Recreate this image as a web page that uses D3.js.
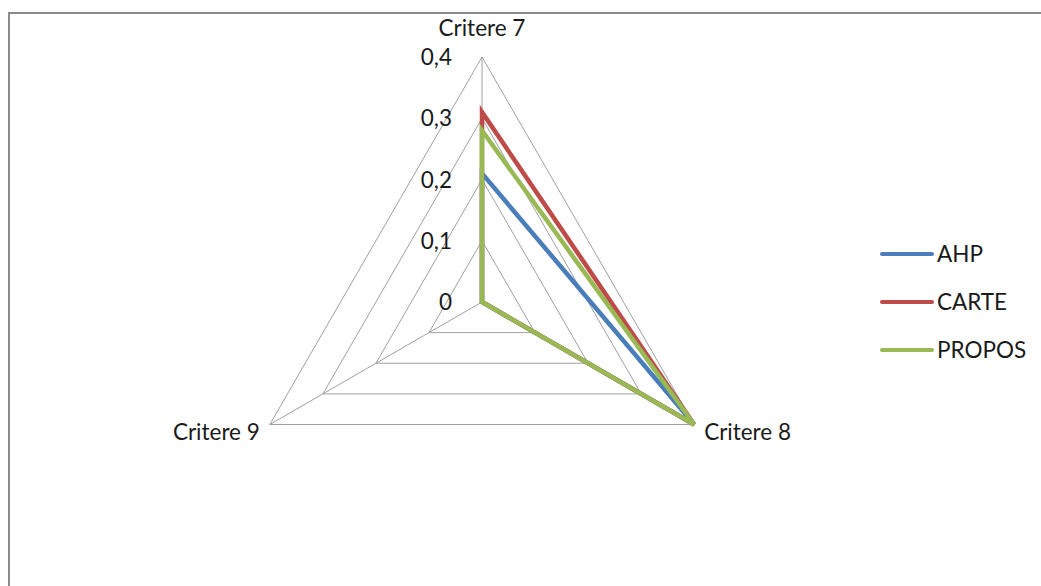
<!DOCTYPE html>
<html>
<head>
<meta charset="utf-8">
<script src="https://cdn.jsdelivr.net/npm/d3@7"></script>
<style>
  html, body { margin: 0; padding: 0; background: #fff; }
  svg { display: block; }
  text { font-family: Lato, "Open Sans", sans-serif; fill: #1a1a1a; }
</style>
</head>
<body>
<svg id="chart" width="1041" height="586"></svg>
<script>
// Criteria on the radar axes
const criteria = ["Critere 7", "Critere 8", "Critere 9"];
// Scores for each method, one per criterion
const seriesNames = ["AHP", "CARTE", "PROPOS"];
const ahpValues = [0.21, 0.40, 0];
const carteValues = [0.31, 0.40, 0];
const proposValues = [0.28, 0.40, 0];
// Radial tick values and their labels
const tickValues = [0, 0.1, 0.2, 0.3, 0.4];
const tickLabels = ["0", "0,1", "0,2", "0,3", "0,4"];

const colors = ["#4a7ebb", "#be4b48", "#98b954"];
const seriesValues = [ahpValues, carteValues, proposValues];

const svg = d3.select("#chart");
const cx = 482, cy = 302, R = 245;
const fontSize = 22.5;

// Chart frame
svg.append("rect")
  .attr("x", 9).attr("y", 13)
  .attr("width", 1060).attr("height", 600)
  .attr("fill", "none").attr("stroke", "#8a8a8a").attr("stroke-width", 2);

const r = d3.scaleLinear().domain([0, 0.4]).range([0, R]);
const angle = d3.scalePoint().domain(criteria).range([0, 2 * Math.PI * (criteria.length - 1) / criteria.length]);

function pt(c, v) {
  const a = angle(c) - Math.PI / 2;
  return [cx + r(v) * Math.cos(a), cy + r(v) * Math.sin(a)];
}

const g = svg.append("g");

// Grid triangles
tickValues.filter(t => t > 0).forEach(t => {
  g.append("polygon")
    .attr("points", criteria.map(c => pt(c, t).join(",")).join(" "))
    .attr("fill", "none").attr("stroke", "#a0a0a0").attr("stroke-width", 1);
});

// Spokes
criteria.forEach(c => {
  const [x, y] = pt(c, 0.4);
  g.append("line")
    .attr("x1", cx).attr("y1", cy).attr("x2", x).attr("y2", y)
    .attr("stroke", "#a0a0a0").attr("stroke-width", 1);
});

// Radial tick labels
tickValues.forEach((t, i) => {
  g.append("text")
    .attr("x", cx - 30).attr("y", cy - r(t) + 8)
    .attr("text-anchor", "end")
    .attr("font-size", fontSize)
    .text(tickLabels[i]);
});

// Category labels
const catPos = [
  { anchor: "middle", dx: 0, dy: -21 },
  { anchor: "start", dx: 10, dy: 15 },
  { anchor: "end", dx: -10, dy: 15 }
];
criteria.forEach((c, i) => {
  const [x, y] = pt(c, 0.4);
  g.append("text")
    .attr("x", x + catPos[i].dx).attr("y", y + catPos[i].dy)
    .attr("text-anchor", catPos[i].anchor)
    .attr("font-size", fontSize)
    .text(c);
});

// Series polygons
const line = d3.line().curve(d3.curveLinearClosed);
seriesValues.forEach((vals, i) => {
  g.append("path")
    .attr("d", line(criteria.map((c, j) => pt(c, vals[j]))))
    .attr("fill", "none")
    .attr("stroke", colors[i])
    .attr("stroke-width", 4.5)
    .attr("stroke-linejoin", "miter");
});

// Legend
const legend = svg.append("g");
seriesNames.forEach((name, i) => {
  const y = 254 + i * 48;
  legend.append("line")
    .attr("x1", 882).attr("x2", 932).attr("y1", y).attr("y2", y)
    .attr("stroke", colors[i]).attr("stroke-width", 4).attr("stroke-linecap", "round");
  legend.append("text")
    .attr("x", 937).attr("y", y + 8)
    .attr("font-size", fontSize)
    .text(name);
});
</script>
</body>
</html>
